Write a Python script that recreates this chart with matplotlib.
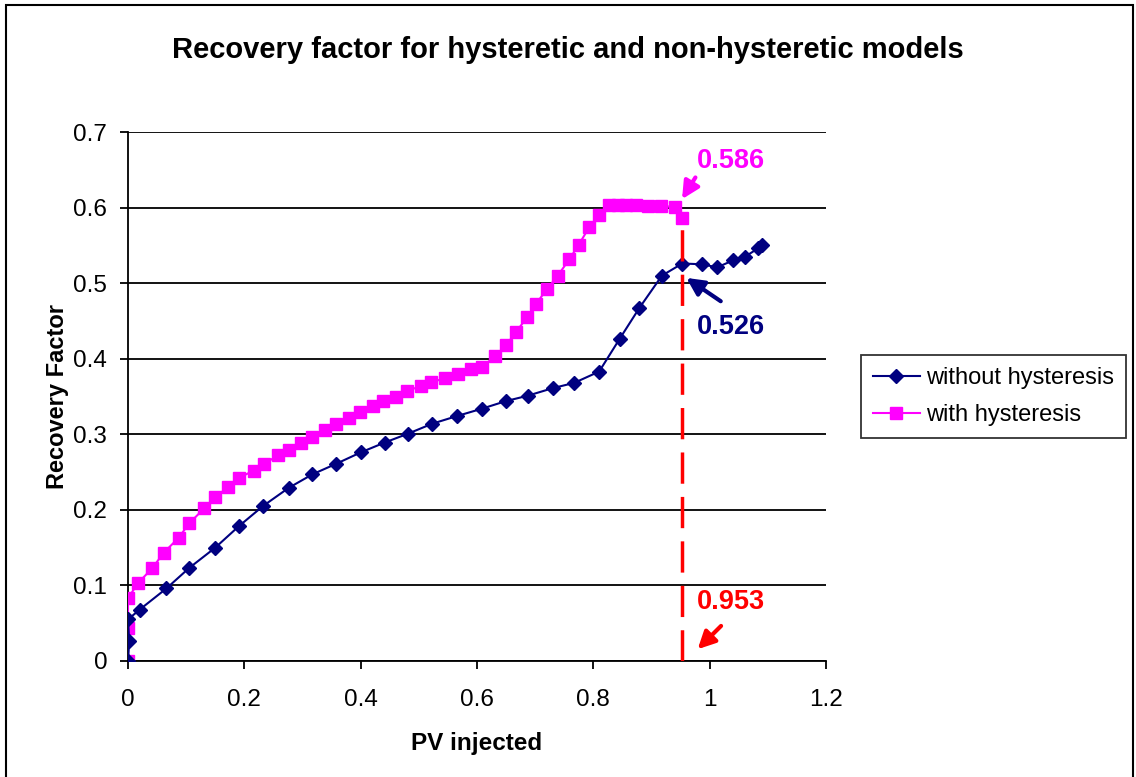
import matplotlib
matplotlib.use('Agg')
import matplotlib.pyplot as plt
from matplotlib.patches import Rectangle

plt.rcParams['font.family'] = ['Liberation Sans', 'DejaVu Sans']

# PV injected / recovery factor, model without hysteresis
pv_nohys = [0.0, 0.002, 0.0, 0.020, 0.066, 0.105, 0.150, 0.190, 0.232, 0.276,
            0.317, 0.358, 0.400, 0.441, 0.482, 0.523, 0.565, 0.609, 0.650, 0.687,
            0.730, 0.767, 0.810, 0.845, 0.879, 0.918, 0.953, 0.986, 1.013, 1.040,
            1.061, 1.083, 1.090]
rf_nohys = [0.0, 0.026, 0.055, 0.068, 0.096, 0.123, 0.150, 0.178, 0.205, 0.229,
            0.247, 0.261, 0.276, 0.289, 0.301, 0.314, 0.324, 0.334, 0.344, 0.351,
            0.361, 0.368, 0.383, 0.426, 0.467, 0.510, 0.526, 0.525, 0.521, 0.530,
            0.535, 0.546, 0.551]

# PV injected / recovery factor, model with hysteresis
pv_hys = [0.0, 0.0, 0.0, 0.017, 0.042, 0.061, 0.087, 0.105, 0.131, 0.150,
          0.172, 0.190, 0.216, 0.234, 0.258, 0.276, 0.298, 0.317, 0.339, 0.358,
          0.380, 0.398, 0.421, 0.439, 0.461, 0.480, 0.503, 0.521, 0.545, 0.568,
          0.590, 0.608, 0.631, 0.650, 0.667, 0.686, 0.702, 0.720, 0.739, 0.759,
          0.775, 0.793, 0.810, 0.827, 0.843, 0.857, 0.873, 0.894, 0.917, 0.940,
          0.953]
rf_hys = [0.0, 0.043, 0.083, 0.103, 0.123, 0.143, 0.163, 0.182, 0.202, 0.217,
          0.230, 0.242, 0.252, 0.261, 0.272, 0.279, 0.289, 0.297, 0.306, 0.314,
          0.322, 0.329, 0.337, 0.344, 0.349, 0.357, 0.364, 0.369, 0.374, 0.380,
          0.386, 0.389, 0.403, 0.418, 0.435, 0.455, 0.473, 0.492, 0.510, 0.532,
          0.551, 0.574, 0.590, 0.604, 0.604, 0.604, 0.604, 0.602, 0.602, 0.601,
          0.586]

pv_end = 0.953
rf_end_nohys = 0.526
rf_end_hys = 0.586

navy = '#000080'
magenta = '#FF00FF'
red = '#FF0000'

fig = plt.figure(figsize=(11.36, 7.77), dpi=100)
ax = fig.add_axes([0.1127, 0.1493, 0.6144, 0.6808])

ax.plot(pv_nohys, rf_nohys, color=navy, lw=1.5, marker='D', ms=7,
        mfc=navy, mec=navy, label='without hysteresis', zorder=4)
ax.plot(pv_hys, rf_hys, color=magenta, lw=1.5, marker='s', ms=8,
        mfc=magenta, mec=magenta, label='with hysteresis', zorder=3)

# breakthrough marker
ax.plot([pv_end, pv_end], [0, rf_end_hys], color=red, lw=2.5,
        dashes=(9, 3.8), zorder=5)

ax.set_xlim(0, 1.2)
ax.set_ylim(0, 0.7)
ax.set_xticks([0, 0.2, 0.4, 0.6, 0.8, 1.0, 1.2])
ax.set_xticklabels(['0', '0.2', '0.4', '0.6', '0.8', '1', '1.2'])
ax.set_yticks([0, 0.1, 0.2, 0.3, 0.4, 0.5, 0.6, 0.7])
ax.set_yticklabels(['0', '0.1', '0.2', '0.3', '0.4', '0.5', '0.6', '0.7'])
ax.yaxis.grid(True, color='black', lw=1.3)
ax.set_axisbelow(True)
ax.tick_params(direction='out', length=6, width=1.3, labelsize=17.5)
ax.tick_params(axis='x', pad=14)
ax.tick_params(axis='y', pad=9)
ax.spines['top'].set_visible(False)
ax.spines['right'].set_visible(False)
for s in ('left', 'bottom'):
    ax.spines[s].set_linewidth(1.3)

ax.set_xlabel('PV injected', fontsize=17.5, fontweight='bold', labelpad=15)
ax.set_ylabel('Recovery Factor', fontsize=17, fontweight='bold', labelpad=3)
fig.text(0.5, 0.936, 'Recovery factor for hysteretic and non-hysteretic models',
         ha='center', va='center', fontsize=21, fontweight='bold')

# value call-outs
ax.text(1.037, 0.662, f'{rf_end_hys:.3f}', color=magenta, fontsize=19.5,
        fontweight='bold', ha='center', va='center')
ax.annotate('', xy=(0.950, 0.608), xytext=(0.978, 0.643),
            arrowprops=dict(arrowstyle='-|>', color=magenta, lw=3,
                            mutation_scale=26))
ax.text(1.037, 0.442, f'{rf_end_nohys:.3f}', color=navy, fontsize=19.5,
        fontweight='bold', ha='center', va='center')
ax.annotate('', xy=(0.956, 0.509), xytext=(1.023, 0.474),
            arrowprops=dict(arrowstyle='-|>', color=navy, lw=3,
                            mutation_scale=26))
ax.text(1.037, 0.078, f'{pv_end:.3f}', color=red, fontsize=19.5,
        fontweight='bold', ha='center', va='center')
ax.annotate('', xy=(0.976, 0.013), xytext=(1.023, 0.049),
            arrowprops=dict(arrowstyle='-|>', color=red, lw=3,
                            mutation_scale=26), annotation_clip=False)

leg = ax.legend(loc='center left', bbox_to_anchor=(1.05, 0.5),
                fontsize=17, frameon=True, fancybox=False, edgecolor='black',
                borderpad=0.5, handlelength=2.0, labelspacing=0.65,
                handletextpad=0.25, borderaxespad=0)
leg.get_frame().set_linewidth(1.3)

# outer chart frame (runs off the bottom edge)
fig.patches.append(Rectangle((6 / 1136, -10 / 777), 1127 / 1136, 782 / 777,
                             transform=fig.transFigure, fill=False,
                             edgecolor='black', lw=1.5))

fig.savefig('out.png', dpi=100)
